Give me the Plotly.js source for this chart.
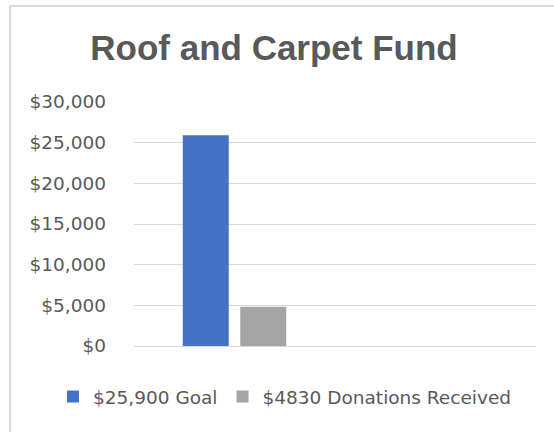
<!DOCTYPE html>
<html>
<head>
<meta charset="utf-8">
<script src="https://cdn.plot.ly/plotly-3.0.1.min.js"></script>
<style>
  html, body { margin: 0; padding: 0; background: #fff; }
  #wrap { position: relative; width: 554px; height: 432px; overflow: hidden; }
  #chart { width: 554px; height: 432px; }
  #frame { position: absolute; left: 9px; top: 5px; width: 600px; height: 500px;
           border: 2px solid #d9d9d9; pointer-events: none; box-sizing: border-box; }
</style>
</head>
<body>
<div id="wrap">
  <div id="chart"></div>
  <div id="frame"></div>
</div>
<script>
const categories = ["Fund", "Empty"];
const seriesNames = ["$25,900 Goal", "$4830 Donations Received"];
const goalValues = [25900];
const donationValues = [4830];
const tickValues = [0, 5000, 10000, 15000, 20000, 25000, 30000];
const tickLabels = ["$0", "$5,000", "$10,000", "$15,000", "$20,000", "$25,000", "$30,000"];

const traces = [
  { type: "bar", name: seriesNames[0], x: [categories[0]], y: goalValues,
    marker: { color: "#4472c4" }, hoverinfo: "none" },
  { type: "bar", name: seriesNames[1], x: [categories[0]], y: donationValues,
    marker: { color: "#a5a5a5" }, hoverinfo: "none" }
];

const layout = {
  width: 554, height: 432,
  paper_bgcolor: "#ffffff", plot_bgcolor: "#ffffff",
  margin: { l: 134, r: 18, t: 102, b: 86 },
  barmode: "group", bargap: 0.428, bargroupgap: 0.2,
  title: {
    text: "<b>Roof and Carpet Fund</b>",
    font: { family: "Liberation Sans, Arial, sans-serif", size: 35, color: "#595959" },
    x: 274 / 554, xanchor: "center", xref: "container",
    y: 1 - 48 / 432, yanchor: "middle", yref: "container"
  },
  xaxis: {
    type: "category", categoryorder: "array", categoryarray: categories,
    range: [-0.5, 1.5], showticklabels: false, showgrid: false, zeroline: false,
    showline: false, ticks: "", fixedrange: true
  },
  yaxis: {
    range: [0, 30000], tickmode: "array", tickvals: tickValues, ticktext: tickLabels,
    showgrid: true, gridcolor: "#d9d9d9", gridwidth: 1,
    zeroline: true, zerolinecolor: "#d9d9d9", zerolinewidth: 1,
    showline: false, ticks: "", ticklabelstandoff: 27,
    tickfont: { family: "DejaVu Sans, sans-serif", size: 18.5, color: "#595959" },
    fixedrange: true
  },
  showlegend: true,
  legend: {
    orientation: "h", x: (53 - 134) / 402, xref: "paper", xanchor: "left",
    y: -(397 - 346) / 244, yanchor: "middle",
    font: { family: "DejaVu Sans, sans-serif", size: 18.5, color: "#595959" },
    bgcolor: "rgba(0,0,0,0)", traceorder: "normal"
  }
};

Plotly.newPlot("chart", traces, layout, { displayModeBar: false, staticPlot: true });
</script>
</body>
</html>
